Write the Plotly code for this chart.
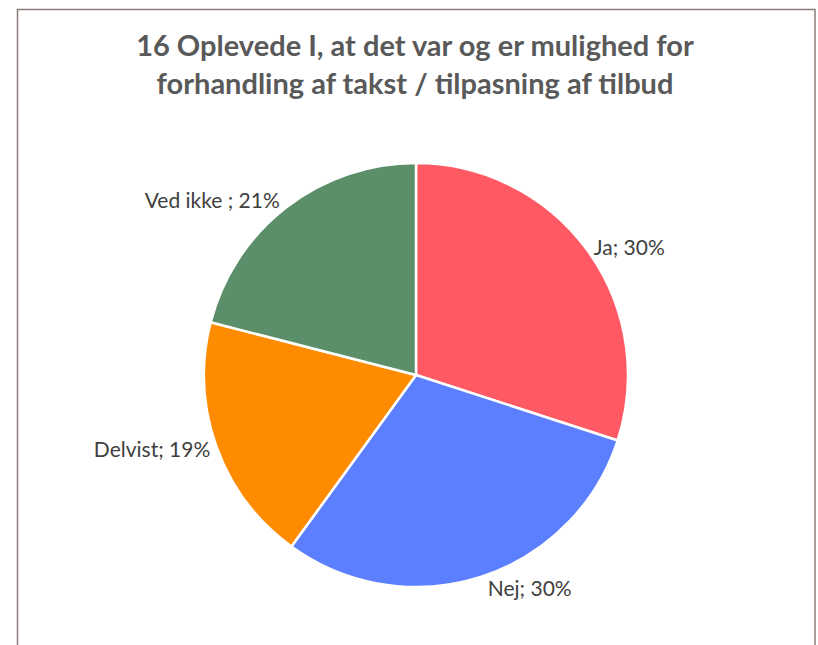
import plotly.graph_objects as go

categories = ["Ja", "Nej", "Delvist", "Ved ikke "]
values = [30, 30, 19, 21]
colors = ["#FF5A64", "#5B7FFF", "#FF8C00", "#5A8F6A"]

W, H = 818, 645
cx, cy, r = 416, 375, 212

fig = go.Figure(go.Pie(
    labels=categories,
    values=values,
    sort=False,
    direction="clockwise",
    rotation=0,
    marker=dict(colors=colors, line=dict(color="white", width=2.5)),
    texttemplate="%{label}; %{percent:.0%}",
    textposition="outside",
    textfont=dict(family="Lato", size=21, color="#404040"),
    hoverinfo="label+percent",
    domain=dict(x=[(cx - r) / W, (cx + r) / W], y=[1 - (cy + r) / H, 1 - (cy - r) / H]),
    showlegend=False,
))

fig.update_layout(
    width=W, height=H,
    margin=dict(l=0, r=0, t=0, b=0),
    paper_bgcolor="white",
    title=dict(
        text="16 Oplevede I, at det var og er mulighed for<br>forhandling af takst / tilpasning af tilbud",
        x=415 / W, xanchor="center", y=1 - 56 / H, yanchor="middle",
        font=dict(family="Lato", size=29, color="#595959", weight="bold"),
    ),
    shapes=[dict(type="rect", xref="paper", yref="paper",
                 x0=17.5 / W, x1=815 / W, y0=-0.05, y1=1 - 9.5 / H,
                 line=dict(color="#8a7e78", width=1.5), fillcolor="rgba(0,0,0,0)")],
)

fig.write_html("out.html", config={"displayModeBar": False},
               post_script="document.body.style.margin='0';document.body.style.overflow='hidden';")
